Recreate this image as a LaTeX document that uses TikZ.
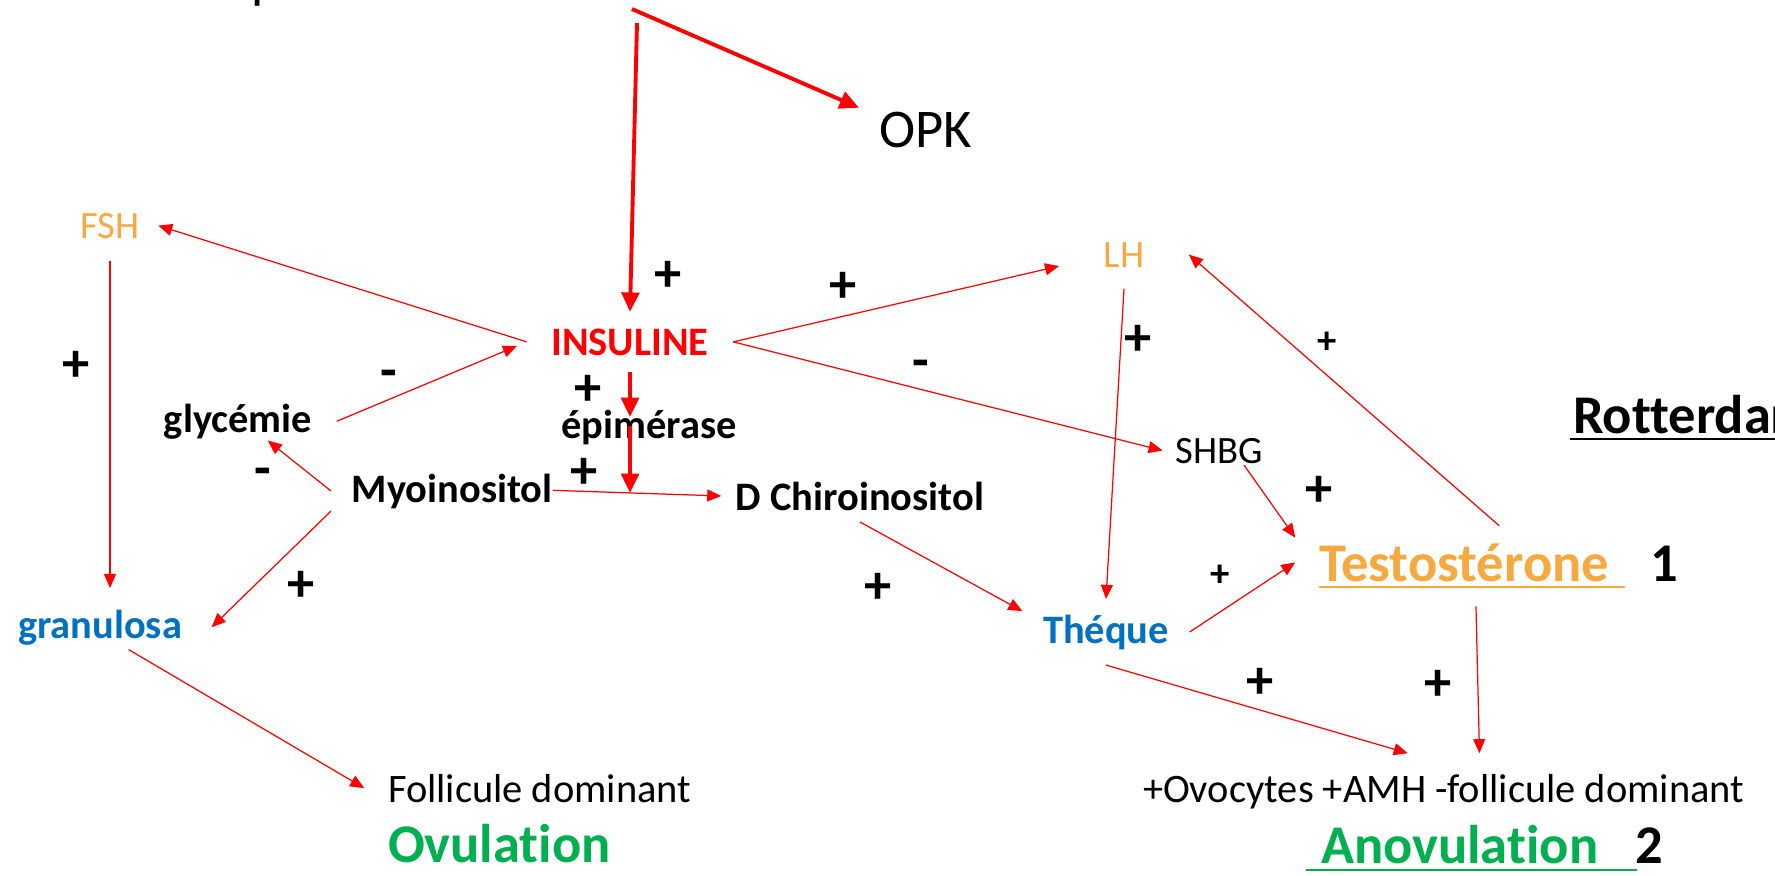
\documentclass[tikz,border=0pt]{standalone}
\usepackage{fontspec}
\setmainfont[Ligatures={TeX,NoCommon}]{Carlito}
\usepackage{xcolor}
\usepackage{tikz}
\usetikzlibrary{
  arrows.meta,
  positioning
}
\definecolor{pcoRed}{HTML}{FF0000}
\definecolor{pcoOrange}{HTML}{F5A93F}
\definecolor{pcoBlue}{HTML}{0070C0}
\definecolor{pcoGreen}{HTML}{00B050}
\tikzset{
  lbl/.style={inner sep=0pt, font=\fontsize{11.5}{13}\selectfont},
  hormone/.style={lbl, text=pcoOrange, font=\fontsize{11}{13}\selectfont},
  molec/.style={lbl, font=\fontsize{11.5}{13}\selectfont\bfseries},
  cell/.style={molec, text=pcoBlue},
  big/.style={lbl, font=\fontsize{15.5}{18}\selectfont\bfseries},
  outcome/.style={big, text=pcoGreen},
  sign/.style={inner sep=0pt, font=\fontsize{15.5}{18}\selectfont\bfseries},
  smallsign/.style={inner sep=0pt, font=\fontsize{11}{13}\selectfont\bfseries},
  link/.style={-{Triangle[length=4pt, width=3.4pt]}, line width=0.35pt, pcoRed},
  heavylink/.style={-{Triangle[length=5.5pt, width=5pt]}, line width=1.1pt, pcoRed},
  uline/.style={line width=0.8pt}
}

\begin{document}
\begin{tikzpicture}[x=0.01cm, y=-0.01cm]
  \useasboundingbox (0,0) rectangle (1775,875);

  % top of the slide (cut off)
  \node[lbl, font=\fontsize{15.5}{18}\selectfont, anchor=base west] (title) at (251,-3) {p};
  \coordinate (srcopk) at (632,9);
  \coordinate (srcins) at (637,23);
  \node[lbl, font=\fontsize{15.5}{18}\selectfont, anchor=base, inner xsep=0.2cm, inner ysep=0.05cm] (opk) at (926,147) {OPK};

  % hormones and molecules
  \node[hormone, anchor=base, inner xsep=0.18cm, inner ysep=0.22cm] (fsh) at (110,238) {FSH};
  \node[hormone, anchor=base, inner xsep=0.44cm, inner ysep=0.21cm] (lh) at (1124,267) {LH};
  \node[molec, text=pcoRed, anchor=base, inner xsep=0.24cm, inner ysep=0.16cm] (ins) at (630,355) {INSULINE};
  \node[molec, anchor=base, inner xsep=0.24cm, inner ysep=0.01cm] (glyc) at (238,432) {glycémie};
  \node[molec, anchor=base] (epi) at (649,438) {épimérase};
  \node[molec, anchor=base, inner xsep=0.2cm, inner ysep=0.02cm] (myo) at (452,502) {Myoinositol};
  \node[molec, anchor=base, inner xsep=0.14cm, inner ysep=0.11cm] (dchiro) at (860,510) {D Chiroinositol};
  \node[lbl, font=\fontsize{11}{13}\selectfont, anchor=base, inner xsep=0.12cm, inner ysep=0.01cm] (shbg) at (1219,463) {SHBG};

  % ovarian cells
  \node[cell, anchor=base, inner xsep=0.29cm, inner ysep=0.04cm] (gran) at (100,638) {granulosa};
  \node[cell, anchor=base, inner xsep=0.2cm, inner ysep=0.15cm] (theque) at (1106,643) {Théque};
  \node[big, text=pcoOrange, anchor=text, inner xsep=0.23cm, inner ysep=0.05cm] (testo) at (1319,581) {Testostérone};
  \node[big, anchor=base] (one) at (1664,581) {1};
  \node[big, anchor=text] (rott) at (1573,433) {Rotterdam};

  % outcomes
  \node[lbl, anchor=text, inner xsep=0.23cm] (foll) at (388,802) {Follicule dominant};
  \node[outcome, anchor=text] (ovul) at (388,862) {Ovulation};
  \node[lbl, anchor=text, inner ysep=0.2cm] (ovo) at (1143,802) {+Ovocytes +AMH -follicule dominant};
  \node[outcome, anchor=text] (anov) at (1321,863) {Anovulation};
  \node[big, anchor=base] (two) at (1649,863) {2};

  \draw[uline, pcoOrange] (testo.text) ++(0,6) -- ++(306,0);
  \draw[uline, pcoGreen] (anov.text) ++(-15,7) -- ++(331,0);
  \draw[uline] (rott.text) ++(-3,6) -- ++(240,0);

  % signs
  \node[sign] (plA) at (668,276) {+};
  \node[sign] (plB) at (843,287) {+};
  \node[sign] (plC) at (1138,340) {+};
  \node[sign] (plD) at (76,366) {+};
  \node[sign] (plE) at (588,390) {+};
  \node[sign] (plF) at (584,473) {+};
  \node[sign] (plG) at (301,586) {+};
  \node[sign] (plH) at (878,588) {+};
  \node[sign] (plI) at (1319,491) {+};
  \node[sign] (plJ) at (1260,683) {+};
  \node[sign] (plK) at (1438,685) {+};
  \node[smallsign] (plL) at (1327,343) {+};
  \node[smallsign] (plM) at (1220,576) {+};
  \node[sign] (mnA) at (921,369) {-};
  \node[sign] (mnB) at (389,379) {-};
  \node[sign] (mnC) at (263,477) {-};

  % connectors
  \draw[heavylink] (srcopk) -- (opk.162);
  \draw[heavylink] (srcins) -- (ins.north);
  \draw[link] (ins.west) -- (fsh.east);
  \draw[link, shorten >=3pt] (glyc.east) -- (ins.west);
  \draw[link] (ins.east) -- (lh.190);
  \draw[link] (ins.east) -- (shbg.west);
  \draw[link] (lh.south) -- (theque.north);
  \draw[link] ([xshift=10pt, yshift=3.4pt]testo.north) -- (lh.east);
  \draw[link] (shbg.-30) -- (testo.north west);
  \draw[link] (theque.east) -- (testo.west);
  \draw[link] ([xshift=3.4pt, yshift=-5.5pt]testo.south) -- ([xshift=4.4pt]testo.south |- ovo.north);
  \draw[link] (theque.south) -- ([xshift=75.5pt]ovo.north west);
  \draw[link] (dchiro.south) -- (theque.166);
  \draw[link, shorten <=-5.7pt] (myo.east) -- coordinate[pos=0.385] (epihit) (dchiro.west);
  \draw[heavylink, shorten >=-2.3pt] (ins.south) -- (ins.south |- epi.north);
  \draw[heavylink, shorten <=-5.3pt] (epihit |- epi.south) -- (epihit);
  \draw[link] (myo.west) -- (glyc.-33);
  \draw[link] (myo.south west) -- (gran.east);
  \draw[link, shorten >=4.8pt] (fsh.south) -- (fsh.south |- gran.north);
  \draw[link] (gran.-38) -- (foll.west);
\end{tikzpicture}
\end{document}
